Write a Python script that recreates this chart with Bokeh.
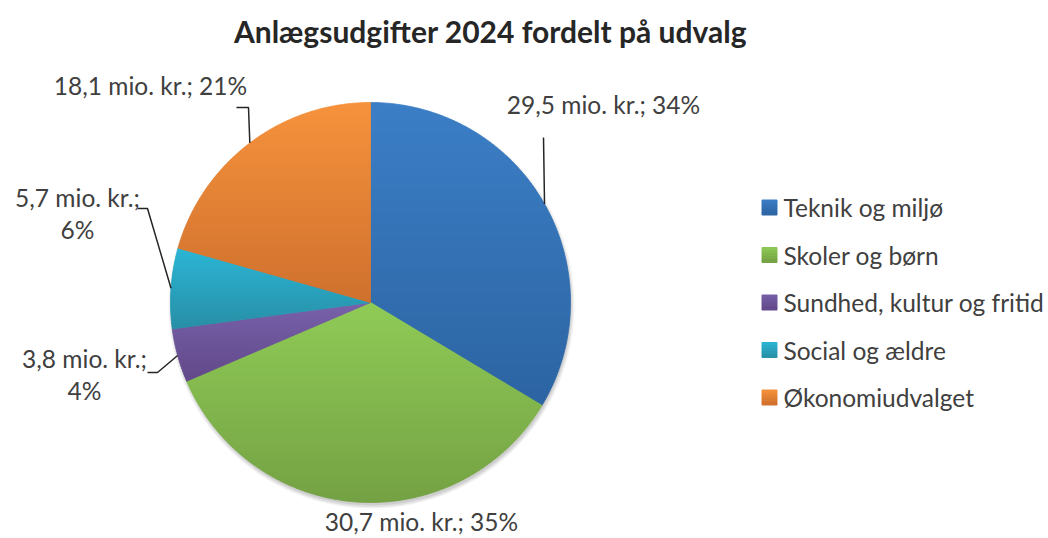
import numpy as np
from bokeh.plotting import figure
from bokeh.models import Range1d
from bokeh.core.properties import value
from bokeh.embed import file_html
from bokeh.resources import INLINE

# ---- data ----
title = "Anlægsudgifter 2024 fordelt på udvalg"
categories = ["Teknik og miljø", "Skoler og børn", "Sundhed, kultur og fritid",
              "Social og ældre", "Økonomiudvalget"]
values = [29.5, 30.7, 3.8, 5.7, 18.1]
unit = "mio. kr."

# ---- styling / layout ----
color_top = ["#3B7EC6", "#8FCB56", "#7861AA", "#2CB6D6", "#F6923C"]
color_bot = ["#2C64A2", "#74A143", "#614889", "#288FA6", "#CF702D"]
FONT = "Lato"
TXT = "#404040"
FS = "24.5px"
W, H = 1048, 538
CX, CY, R = 370, 302, 200            # pie centre/radius in page pixels
# label anchors (page pixels); wrap = two-line label
lab_x = [603, 421, 84, 77, 150]
lab_y = [104, 521, 358, 197, 85]
wrap = [False, False, True, True, False]
# leader line elbow / end points (page pixels); None = no leader
lead_mid = [(543, 137), None, (157, 372), (147, 208), (248, 107)]
lead_end = [(543, 137), None, (147, 372), (137, 208), (236, 107)]
leg_x, leg_y0, leg_dy = 769, 207, 47.5
STRIP = 3.0


def Y(py):
    return H - py


def hex2rgb(h):
    return np.array([int(h[k:k + 2], 16) for k in (1, 3, 5)], dtype=float)


def lerp(c1, c2, t):
    c = hex2rgb(c1) * (1 - t) + hex2rgb(c2) * t
    return "#%02x%02x%02x" % tuple(int(round(v)) for v in c)


def clip_half(pts, keep, yc):
    out = []
    n = len(pts)
    for k in range(n):
        cur, prev = pts[k], pts[k - 1]
        cin, pin = keep(cur), keep(prev)
        if cin != pin:
            (x1, y1), (x2, y2) = prev, cur
            out.append((x1 + (yc - y1) * (x2 - x1) / (y2 - y1), yc))
        if cin:
            out.append(cur)
    return out


def clip_band(pts, ylo, yhi):
    pts = clip_half(pts, lambda q: q[1] >= ylo, ylo)
    if not pts:
        return pts
    return clip_half(pts, lambda q: q[1] <= yhi, yhi)


p = figure(width=W, height=H, x_range=Range1d(0, W), y_range=Range1d(0, H),
           output_backend="svg", toolbar_location=None, min_border=0,
           x_axis_location=None, y_axis_location=None)
p.grid.visible = False
p.outline_line_color = None
p.background_fill_color = "white"

vals = np.array(values, dtype=float)
frac = vals / vals.sum()
cum = np.cumsum(frac)
st = cum - frac
start_ang = np.pi / 2 - 2 * np.pi * cum
end_ang = np.pi / 2 - 2 * np.pi * st
mid_ang = np.pi / 2 - 2 * np.pi * (st + frac / 2)

# soft shadow
for dr, a in [(3, 0.05), (1.5, 0.07), (0, 0.08)]:
    p.circle(x=[CX + 1], y=[Y(CY) - 3], radius=R + dr, fill_color="black",
             fill_alpha=a, line_color=None)

# slices, drawn as horizontal bands to give each a vertical gradient
pxs, pys, pcs = [], [], []
cx, cy = CX, Y(CY)
for i in range(len(values)):
    n = max(8, int(np.degrees(end_ang[i] - start_ang[i]) * 2))
    th = np.linspace(start_ang[i], end_ang[i], n)
    poly = [(cx, cy)] + [(cx + R * np.cos(t), cy + R * np.sin(t)) for t in th]
    ytop = max(q[1] for q in poly)
    ybot = min(q[1] for q in poly)
    y = ytop
    while y > ybot:
        ylo = max(y - STRIP, ybot)
        band = clip_band(poly, ylo, y)
        if len(band) >= 3:
            t = ((ytop - (y + ylo) / 2) / (ytop - ybot))
            pxs.append([q[0] for q in band])
            pys.append([q[1] for q in band])
            pcs.append(lerp(color_top[i], color_bot[i], t))
        y = ylo
p.patches(xs=pxs, ys=pys, fill_color=pcs, line_color=pcs, line_width=0.8)

# labels
pct = np.round(frac * 100).astype(int)
for i, v in enumerate(values):
    s_val = f"{v:.1f}".replace(".", ",") + " " + unit + ";"
    s_pct = f"{pct[i]}%"
    if wrap[i]:
        p.text(x=[lab_x[i]], y=[Y(lab_y[i])], text=[s_val], text_font=value(FONT),
               text_font_size=FS, text_color=TXT, text_align="center",
               text_baseline="middle")
        p.text(x=[lab_x[i]], y=[Y(lab_y[i] + 32)], text=[s_pct], text_font=value(FONT),
               text_font_size=FS, text_color=TXT, text_align="center",
               text_baseline="middle")
    else:
        p.text(x=[lab_x[i]], y=[Y(lab_y[i])], text=[s_val + " " + s_pct],
               text_font=value(FONT), text_font_size=FS, text_color=TXT,
               text_align="center", text_baseline="middle")

# leader lines
xs, ys = [], []
for i in range(len(values)):
    if lead_mid[i] is None:
        continue
    ex = cx + R * np.cos(mid_ang[i])
    ey = cy + R * np.sin(mid_ang[i])
    xs.append([ex, lead_mid[i][0], lead_end[i][0]])
    ys.append([ey, Y(lead_mid[i][1]), Y(lead_end[i][1])])
p.multi_line(xs=xs, ys=ys, line_color="#262626", line_width=1.5)

# legend (swatches with gradient, overlapping bands to avoid seams)
ly = [Y(leg_y0 + k * leg_dy) for k in range(len(categories))]
for j in range(5):
    sx, sy, sc = [], [], []
    for k in range(len(categories)):
        sx.append(leg_x)
        sy.append(ly[k] + 6 - 3 * j)
        sc.append(lerp(color_top[k], color_bot[k], (j + 0.5) / 5))
    p.rect(x=sx, y=sy, width=15, height=3.0, fill_color=sc, line_color=sc,
           line_width=1.0)

p.text(x=[leg_x + 14] * len(categories), y=ly, text=categories, text_font=value(FONT),
       text_font_size=FS, text_color=TXT, text_align="left", text_baseline="middle")

# title
p.text(x=[490], y=[Y(30)], text=[title], text_font=value(FONT), text_font_size="30px",
       text_font_style="bold", text_color="#262626", text_align="center",
       text_baseline="middle")

open("out.html", "w").write(file_html(p, INLINE))
